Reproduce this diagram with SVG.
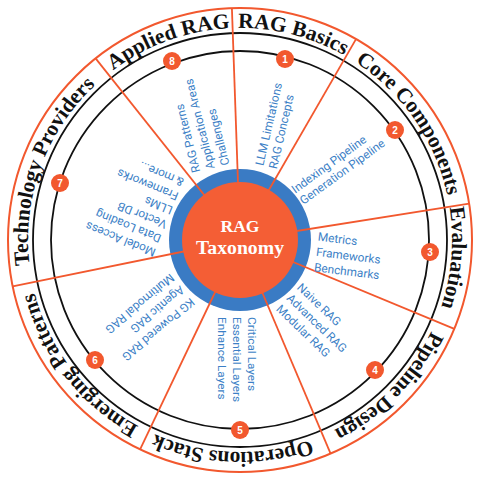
<svg xmlns="http://www.w3.org/2000/svg" xmlns:xlink="http://www.w3.org/1999/xlink" width="480" height="480" viewBox="0 0 480 480">
<style>
.ring{fill:none;stroke:#111;stroke-width:1.8}
.outer{fill:none;stroke:#F2582E;stroke-width:2}
.div{stroke:#F2582E;stroke-width:1.8;fill:none}
.lbl{font-family:"Liberation Serif","Times New Roman",serif;font-weight:bold;font-size:21.5px;fill:#111;text-anchor:middle}
.sub{font-family:Roboto,"Liberation Sans",sans-serif;font-size:11.8px;fill:#3C7FC6}
.badge circle{fill:#F2582E}
.badge text{font-family:"Liberation Sans",Arial,sans-serif;font-weight:bold;font-size:10px;fill:#fff;text-anchor:middle}
.ctr{font-family:"Liberation Serif","Times New Roman",serif;font-weight:bold;fill:#fff;text-anchor:middle}
</style>
<defs>
<path id="arc" d="M240 28 A212 212 0 1 1 240 452 A212 212 0 1 1 240 28 A212 212 0 1 1 240 452 A212 212 0 1 1 240 28"/>
</defs>
<rect width="480" height="480" fill="#fff"/>
<g id="rings">
<circle class="outer" cx="240" cy="240" r="232"/>
<circle class="ring" cx="240" cy="240" r="207"/>
<circle class="ring" cx="240" cy="240" r="189"/>
</g>
<circle id="blue-ring" cx="240" cy="240" r="71" fill="#3A7BC4"/>
<g id="connectors">
<line class="div" x1="240" y1="240" x2="231.9" y2="8.1"/>
<line class="div" x1="240" y1="240" x2="356" y2="39.1"/>
<line class="div" x1="240" y1="240" x2="469.1" y2="203.7"/>
<line class="div" x1="240" y1="240" x2="454.3" y2="328.8"/>
<line class="div" x1="240" y1="240" x2="330.6" y2="453.6"/>
<line class="div" x1="240" y1="240" x2="140.1" y2="449.4"/>
<line class="div" x1="240" y1="240" x2="12.7" y2="286.3"/>
<line class="div" x1="240" y1="240" x2="95.6" y2="58.4"/>
</g>
<g id="center">
<circle cx="240" cy="240" r="58" fill="#F45E35"/>
<text class="ctr" x="240" y="232" font-size="17.5">RAG</text>
<text class="ctr" x="240" y="254" font-size="18.5" textLength="88" lengthAdjust="spacingAndGlyphs">Taxonomy</text>
</g>
<g id="n1">
<text class="lbl"><textPath xlink:href="#arc" href="#arc" startOffset="1384.9">RAG Basics</textPath></text>
<g transform="translate(240 240) rotate(-77)" class="sub"><text x="77" y="6">LLM Limitations</text><text x="77" y="20">RAG Concepts</text></g>
<g class="badge"><circle cx="285" cy="59" r="9"/><text x="285" y="62.5">1</text></g>
</g>
<g id="n2">
<text class="lbl"><textPath xlink:href="#arc" href="#arc" startOffset="205">Core Components</textPath></text>
<g transform="translate(240 240) rotate(-36)" class="sub"><text x="72" y="-5">Indexing Pipeline</text><text x="72" y="9">Generation Pipeline</text></g>
<g class="badge"><circle cx="395" cy="130" r="9"/><text x="395" y="133.5">2</text></g>
</g>
<g id="n3">
<text class="lbl"><textPath xlink:href="#arc" href="#arc" startOffset="350.4">Evaluation</textPath></text>
<g transform="translate(240 240) rotate(7)" class="sub"><text x="77" y="-9">Metrics</text><text x="77" y="6.5">Frameworks</text><text x="77" y="22">Benchmarks</text></g>
<g class="badge"><circle cx="430" cy="252" r="9"/><text x="430" y="255.5">3</text></g>
</g>
<g id="n4">
<text class="lbl"><textPath xlink:href="#arc" href="#arc" startOffset="497.7">Pipeline Design</textPath></text>
<g transform="translate(240 240) rotate(44)" class="sub"><text x="74" y="-4.5">Naive RAG</text><text x="74" y="10.5">Advanced RAG</text><text x="74" y="25.5">Modular RAG</text></g>
<g class="badge"><circle cx="375" cy="370" r="9"/><text x="375" y="373.5">4</text></g>
</g>
<g id="n5">
<text class="lbl"><textPath xlink:href="#arc" href="#arc" startOffset="673.4">Operations Stack</textPath></text>
<g transform="translate(240 240) rotate(90)" class="sub"><text x="77" y="-8">Critical Layers</text><text x="77" y="7">Essential Layers</text><text x="77" y="22">Enhance Layers</text></g>
<g class="badge"><circle cx="240" cy="430" r="9"/><text x="240" y="433.5">5</text></g>
</g>
<g id="n6">
<text class="lbl"><textPath xlink:href="#arc" href="#arc" startOffset="858.4">Emerging Patterns</textPath></text>
<g transform="translate(240 240) rotate(140)" class="sub"><text x="75" y="-12">KG Powered RAG</text><text x="75" y="4">Agentic RAG</text><text x="75" y="19.5">Multimodal RAG</text></g>
<g class="badge"><circle cx="95" cy="360" r="9"/><text x="95" y="363.5">6</text></g>
</g>
<g id="n7">
<text class="lbl"><textPath xlink:href="#arc" href="#arc" startOffset="1073">Technology Providers</textPath></text>
<g transform="translate(240 240) rotate(202)" class="sub"><text x="74" y="-40">Model Access</text><text x="74" y="-24.8">Data Loading</text><text x="74" y="-9.6">Vector DB</text><text x="74" y="5.6">LLMs</text><text x="74" y="20.8">Frameworks</text><text x="74" y="36">&amp; more...</text></g>
<g class="badge"><circle cx="60" cy="183" r="9"/><text x="60" y="186.5">7</text></g>
</g>
<g id="n8">
<text class="lbl"><textPath xlink:href="#arc" href="#arc" startOffset="1258.4">Applied RAG</textPath></text>
<g transform="translate(240 240) rotate(-104)" class="sub"><text x="76" y="-22">RAG Patterns</text><text x="76" y="-7">Application Areas</text><text x="76" y="8">Challenges</text></g>
<g class="badge"><circle cx="172" cy="61" r="9"/><text x="172" y="64.5">8</text></g>
</g>
</svg>
